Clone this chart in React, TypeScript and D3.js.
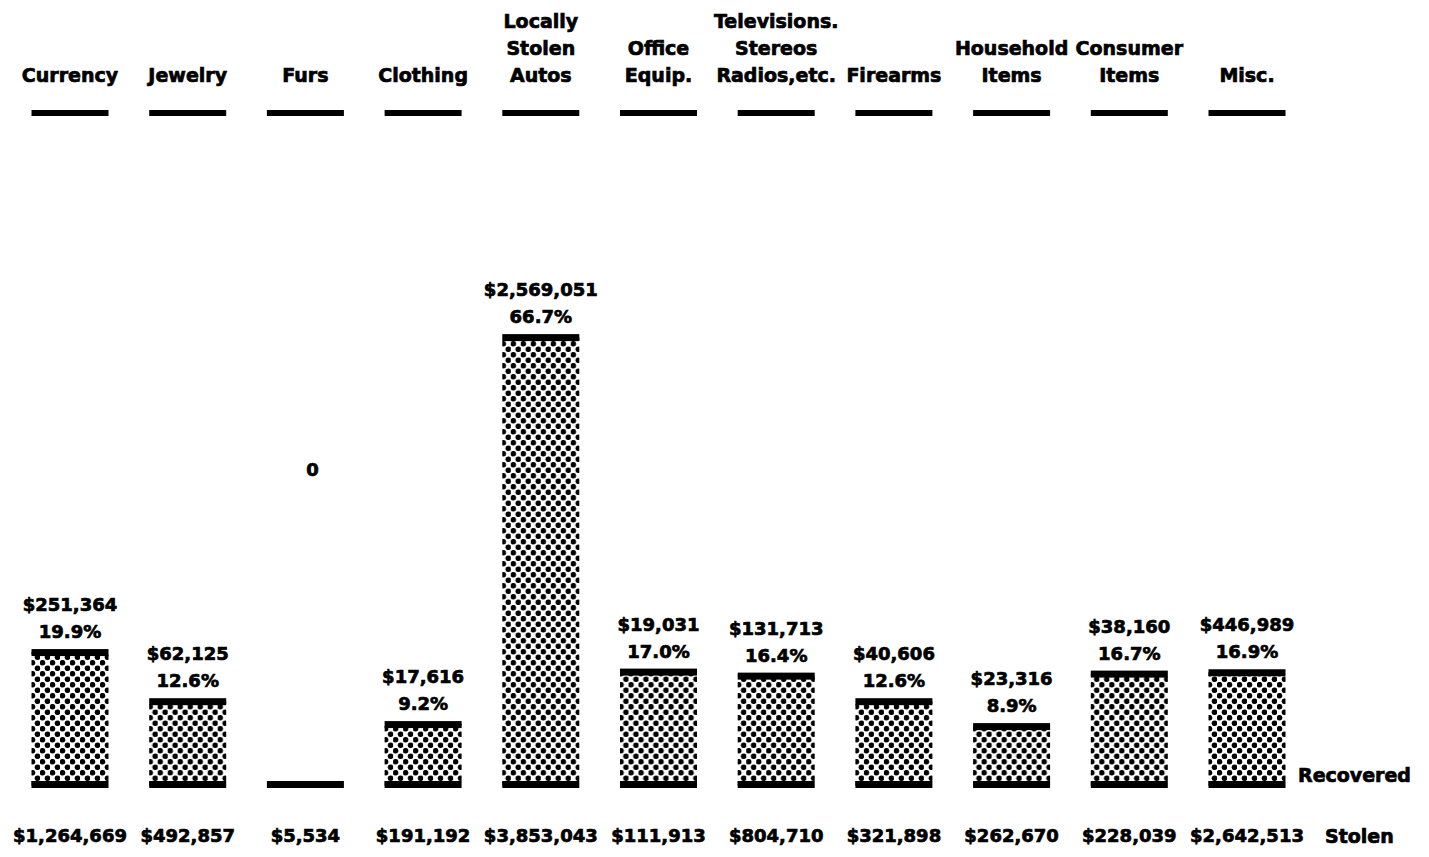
import React, { useEffect, useRef } from "react"
import * as d3 from "d3"

// header lines of each category (bottom aligned)
const categories = [
	["Currency"],
	["Jewelry"],
	["Furs"],
	["Clothing"],
	["Locally", "Stolen", "Autos"],
	["Office", "Equip."],
	["Televisions.", "Stereos", "Radios,etc."],
	["Firearms"],
	["Household", "Items"],
	["Consumer", "Items"],
	["Misc."],
]
const stolen = [1264669, 492857, 5534, 191192, 3853043, 111913, 804710, 321898, 262670, 228039, 2642513]
const recovered = [251364, 62125, 0, 17616, 2569051, 19031, 131713, 40606, 23316, 38160, 446989]
const percent = [19.9, 12.6, 0, 9.2, 66.7, 17.0, 16.4, 12.6, 8.9, 16.7, 16.9]

const W = 1429
const H = 857
const FONT = "'DejaVu Sans', Arial, sans-serif"

const App = () => {
	const ref = useRef<SVGSVGElement>(null)

	useEffect(() => {
		const svg = d3.select(ref.current)
		svg.selectAll("*").remove()

		const idx = categories.map((_, i) => i)
		const x = d3.scalePoint<number>().domain(idx).range([70, 1247])
		const y = d3.scaleLinear().domain([0, 100]).range([786, 113])
		const barW = 77
		const cap = 7

		// heavy bold text helper
		const txt = (sel, size) =>
			sel
				.style("font-family", FONT)
				.style("font-weight", "bold")
				.style("font-size", size + "px")
				.style("stroke", "#000")
				.style("stroke-width", "0.7px")
				.style("fill", "#000")

		// dot pattern
		const defs = svg.append("defs")
		const pat = defs
			.append("pattern")
			.attr("id", "dots")
			.attr("patternUnits", "userSpaceOnUse")
			.attr("width", 10)
			.attr("height", 11)
		pat.append("rect").attr("width", 10).attr("height", 11).attr("fill", "#fff")
		pat.append("circle").attr("cx", 2.5).attr("cy", 2.75).attr("r", 2.8).attr("fill", "#000")
		pat.append("circle").attr("cx", 7.5).attr("cy", 8.25).attr("r", 2.8).attr("fill", "#000")

		// headers
		const head = svg
			.selectAll(".head")
			.data(idx)
			.join("g")
			.attr("class", "head")
			.attr("transform", i => `translate(${x(i)},0)`)

		head
			.selectAll("text")
			.data(i => categories[i].map((t, k, arr) => ({ t, k, n: arr.length })))
			.join("text")
			.attr("text-anchor", "middle")
			.attr("y", d => 82 - (d.n - 1 - d.k) * 27)
			.call(txt, 19)
			.text(d => d.t)

		head
			.append("rect")
			.attr("x", -barW / 2)
			.attr("y", y(100) - 3)
			.attr("width", barW)
			.attr("height", 6)
			.attr("fill", "#000")

		// bars
		const col = svg
			.selectAll(".col")
			.data(idx)
			.join("g")
			.attr("class", "col")
			.attr("transform", i => `translate(${x(i)},0)`)

		const withRec = col.filter(i => percent[i] > 0)

		withRec
			.append("rect")
			.attr("x", -barW / 2)
			.attr("y", i => y(percent[i]))
			.attr("width", barW)
			.attr("height", i => y(0) - y(percent[i]))
			.attr("fill", "url(#dots)")

		withRec
			.append("rect")
			.attr("x", -barW / 2)
			.attr("y", i => y(percent[i]) - 3)
			.attr("width", barW)
			.attr("height", cap)
			.attr("fill", "#000")

		col
			.append("rect")
			.attr("x", -barW / 2)
			.attr("y", y(0) - cap + 2)
			.attr("width", barW)
			.attr("height", cap)
			.attr("fill", "#000")

		// recovered labels
		withRec
			.append("text")
			.attr("text-anchor", "middle")
			.attr("y", i => y(percent[i]) - 41)
			.call(txt, 18)
			.text(i => "$" + d3.format(",")(recovered[i]))

		withRec
			.append("text")
			.attr("text-anchor", "middle")
			.attr("y", i => y(percent[i]) - 14)
			.call(txt, 18)
			.text(i => d3.format(".1f")(percent[i]) + "%")

		// zero recovered
		col
			.filter(i => recovered[i] === 0)
			.append("text")
			.attr("text-anchor", "middle")
			.attr("x", 7)
			.attr("y", y(46))
			.call(txt, 18)
			.text(i => d3.format(",")(recovered[i]))

		// stolen labels
		col
			.append("text")
			.attr("text-anchor", "middle")
			.attr("y", 842)
			.call(txt, 18)
			.text(i => "$" + d3.format(",")(stolen[i]))

		// legends
		svg
			.append("text")
			.attr("x", 1298)
			.attr("y", 782)
			.call(txt, 19)
			.text("Recovered")

		svg
			.append("text")
			.attr("x", 1325)
			.attr("y", 843)
			.call(txt, 19)
			.text("Stolen")
	}, [])

	return (
		<svg
			ref={ref}
			width={W}
			height={H}
			style={{ position: "absolute", left: 0, top: 0, background: "#fff" }}
		></svg>
	)
}

export default App
